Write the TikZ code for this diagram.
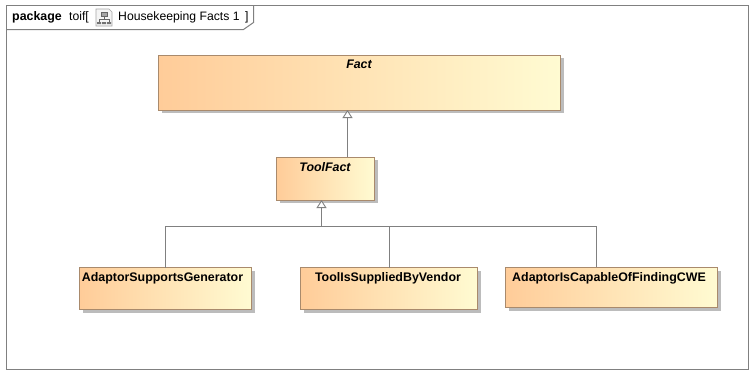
\documentclass[tikz,border=0pt]{standalone}
\usepackage{fontspec}
\setmainfont{Liberation Sans}
\usetikzlibrary{arrows.meta,shadows,calc}
\definecolor{boxL}{HTML}{FFCC99}
\definecolor{boxR}{HTML}{FFFBD2}
\definecolor{boxB}{HTML}{A98A6C}
\definecolor{lineC}{HTML}{808080}
\tikzset{
  x=1pt,y=-1pt,
  cls/.style={draw=boxB,line width=1pt,left color=boxL,right color=boxR,shading angle=90,
    drop shadow={shadow xshift=3pt,shadow yshift=-3pt,fill=black!40,opacity=.65},
    inner sep=0pt,outer sep=0pt,minimum width=#1},
  clstext/.style={font=\bfseries\fontsize{12.4}{14}\selectfont,text=black,anchor=base},
  ital/.style={font=\bfseries\itshape\fontsize{12.4}{14}\selectfont,text=black,anchor=base},
  conn/.style={draw=lineC,line width=1pt},
  gen/.style={conn,-{Triangle[open,fill=white,length=8pt,width=10pt,line width=.9pt]}},
  frm/.style={draw=lineC,line width=1pt},
  hdr/.style={font=\fontsize{12.2}{14}\selectfont,anchor=base west,inner sep=0pt},
}
\begin{document}
\begin{tikzpicture}
\useasboundingbox (0,0) rectangle (749,370);
\fill[white] (0,0) rectangle (749,370);
% frame
\coordinate (f1) at (6.5,5.5);
\coordinate (f2) at (748.5,369.5);
\draw[frm] (f1) rectangle (f2);
\draw[frm] (6.5,29.5) -- (243.5,29.5) -- (253.5,22.5) -- (253.5,5.5);
\node[hdr,font=\bfseries\fontsize{12.4}{14}\selectfont] (pk) at (12,20) {package};
\node[hdr] (nm) at (69,20) {toif[};
\node[hdr] (hk) at (118,20) {Housekeeping Facts 1};
\node[hdr] (br) at (245,20) {]};
% icon
\draw[draw=black!35,fill=black!4,line width=.6pt] (96,9) -- (109,9) -- (112,12) -- (112,26) -- (96,26) -- cycle;
\draw[black!60,fill=black!35,line width=.4pt] (101,12) rectangle (107,16);
\draw[black!60,line width=.5pt] (104,16) -- (104,19) (99,22) -- (99,19) -- (109,19) -- (109,22);
\fill[black!55] (97,22) rectangle (101,24) (102,22) rectangle (106,24) (107,22) rectangle (111,24);
% classes
\node[cls=402pt,minimum height=55pt] (fact) at (359.5,82.5) {};
\node[cls=98pt,minimum height=43pt] (tool) at (325.5,178.5) {};
\node[cls=172pt,minimum height=42pt] (asg) at (165.5,288.5) {};
\node[cls=177pt,minimum height=42pt] (tsv) at (389,288.5) {};
\node[cls=212pt,minimum height=40pt] (acf) at (611.5,287.5) {};
\node[ital] (factT) at (359,68) {Fact};
\node[ital] (toolT) at (325,171) {ToolFact};
\node[clstext] (asgT) at (162.5,281) {AdaptorSupportsGenerator};
\node[clstext] (tsvT) at (388,281) {ToolIsSuppliedByVendor};
\node[clstext] (acfT) at (609,281) {AdaptorIsCapableOfFindingCWE};
% connectors
\coordinate (factIn) at (347.5,110);
\coordinate (toolOut) at (347.5,157);
\coordinate (toolIn) at (321.5,200);
\coordinate (junc) at (321.5,226.5);
\coordinate (acfTop) at (596.5,267);
\draw[gen] (toolOut) -- (factIn);
\draw[conn] (asg.north) -- (asg.north |- junc) -- (acfTop |- junc) -- (acfTop);
\draw[conn] (tsv.north) -- (tsv.north |- junc);
\draw[gen] (junc) -- (toolIn);
\end{tikzpicture}
\end{document}
